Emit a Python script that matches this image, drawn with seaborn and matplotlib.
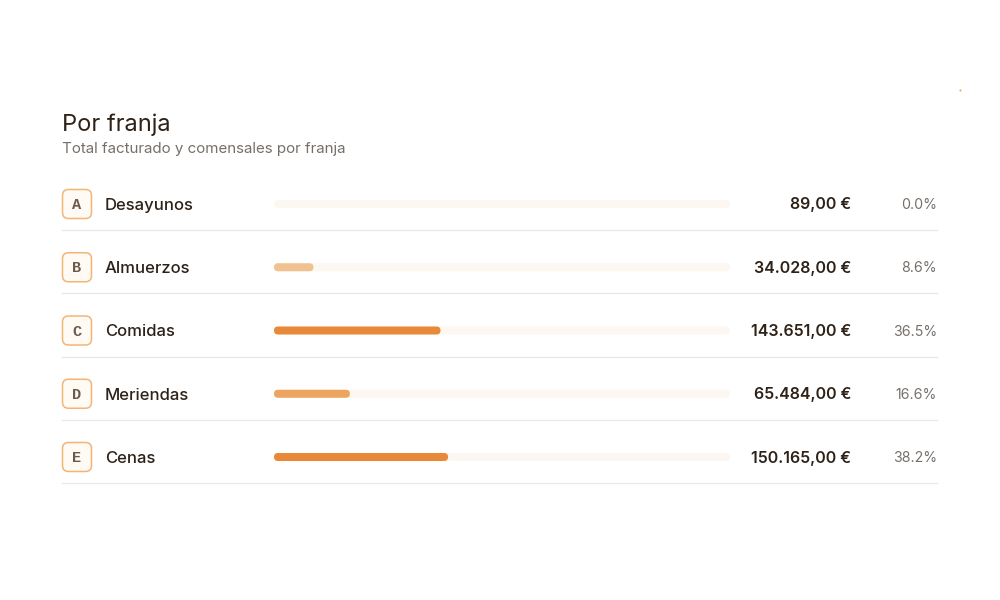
import matplotlib
matplotlib.use("Agg")
import matplotlib.pyplot as plt
from matplotlib.patches import FancyBboxPatch
import seaborn as sns

# data
letters = ["A", "B", "C", "D", "E"]
franjas = ["Desayunos", "Almuerzos", "Comidas", "Meriendas", "Cenas"]
totals = [89.00, 34028.00, 143651.00, 65484.00, 150165.00]
pct_labels = ["0.0%", "8.6%", "36.5%", "16.6%", "38.2%"]
bar_colors = ["#f3cfa4", "#f0c28f", "#e8893a", "#eca55f", "#e8893a"]

title = "Por franja"
subtitle = "Total facturado y comensales por franja"

grand = sum(totals)
shares = [t / grand for t in totals]


def euro(v):
    s = f"{v:,.2f}"
    s = s.replace(",", "X").replace(".", ",").replace("X", ".")
    return s + " €"


sns.set_theme(style="white")
plt.rcParams["font.family"] = ["Inter", "DejaVu Sans"]

DARK = "#2e2218"
GREY = "#77706a"
TRACK = "#fcf7f1"

fig = plt.figure(figsize=(10, 6), dpi=100)
fig.patch.set_facecolor("white")

# overlay axes in pixel coordinates for text and decorations
ax = fig.add_axes([0, 0, 1, 1])
ax.set_xlim(0, 1000)
ax.set_ylim(600, 0)
ax.axis("off")

row0, step = 204, 63.25
ax.text(62, 125, title, fontsize=17, color=DARK, va="center", ha="left")
ax.text(62, 149.5, subtitle, fontsize=10.9, color=GREY, va="center", ha="left")
ax.plot([960], [90], marker="s", ms=1.3, color="#f0a050", mec="none")

for i in range(len(franjas)):
    yc = row0 + i * step
    badge = FancyBboxPatch((62.5, yc - 14.5), 29, 29,
                           boxstyle="round,pad=0,rounding_size=6",
                           fc="#fffaf4", ec="#f2b577", lw=1.1)
    ax.add_patch(badge)
    ax.text(77, yc + 1, letters[i], fontsize=11, color="#6b5a4d",
            family=["Liberation Mono", "DejaVu Sans Mono"], weight="bold",
            ha="center", va="center")
    ax.text(105, yc + 1.5, franjas[i], fontsize=12, color=DARK,
            weight="medium", ha="left", va="center")
    ax.text(851, yc + 1, euro(totals[i]), fontsize=11.5, color=DARK,
            weight="semibold", ha="right", va="center")
    ax.text(937, yc + 1, pct_labels[i], fontsize=10.2, color=GREY,
            ha="right", va="center")
    ax.plot([62, 937], [yc + 26, yc + 26], color="#ebe8e5", lw=1)

# bar axes: track region, x in share units
top = row0 - step / 2
bottom = row0 + (len(franjas) - 0.5) * step
bax = fig.add_axes([274 / 1000, (600 - bottom) / 600, 456 / 1000,
                    (bottom - top) / 600])
bar_h = 8 / step
sns.barplot(x=[1.0] * len(franjas), y=franjas, color=TRACK, width=bar_h,
            saturation=1, ax=bax)
sns.barplot(x=shares, y=franjas, hue=franjas, palette=bar_colors,
            width=bar_h, saturation=1, legend=False, ax=bax)
bax.set_xlim(0, 1)
bax.set_ylim(len(franjas) - 0.5, -0.5)
bax.axis("off")

# round off the bar ends
aspect = 456 / step
for p in list(bax.patches):
    x0, y0 = p.get_x(), p.get_y()
    w, h = p.get_width(), p.get_height()
    fc = p.get_facecolor()
    p.remove()
    if w < 0.01:
        continue
    r = (h * step / 2) / 456
    bax.add_patch(FancyBboxPatch((x0, y0), w, h,
                                 boxstyle=f"round,pad=0,rounding_size={r}",
                                 mutation_aspect=aspect, fc=fc, ec="none"))

fig.savefig("out.png", dpi=100, facecolor="white")
